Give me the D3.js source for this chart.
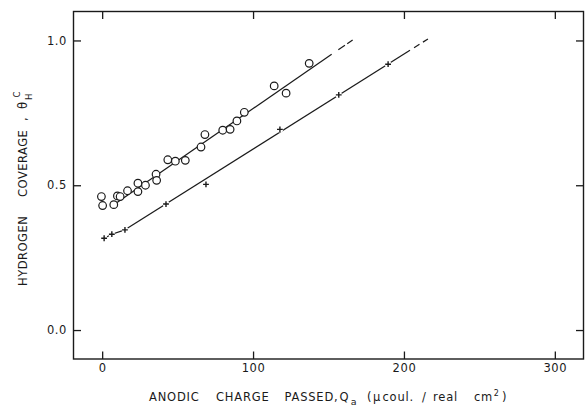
<!DOCTYPE html>
<html>
<head>
<meta charset="utf-8">
<script src="https://cdn.jsdelivr.net/npm/d3@7"></script>
<style>
  body { margin: 0; background: #fff; }
  svg text { font-family: "DejaVu Sans", "Liberation Sans", sans-serif; fill: #1a1a1a; }
</style>
</head>
<body>
<svg id="chart" width="585" height="407"></svg>
<script>
// Open circles: coverage measured after anodic charge
const circleQ = [-0.5, 0.3, 7.7, 10.1, 11.9, 16.8, 23.7, 23.7, 28.7, 35.7, 36.1, 43.5, 48.5, 55.1,
                 65.5, 68.1, 79.9, 84.8, 89.3, 94.2, 114.0, 121.9, 137.2];
const circleTheta = [0.461, 0.430, 0.433, 0.463, 0.461, 0.481, 0.478, 0.507, 0.500, 0.538, 0.517, 0.588,
                     0.583, 0.586, 0.632, 0.675, 0.690, 0.693, 0.722, 0.752, 0.843, 0.818, 0.921];

// Crosses: second series
const plusQ = [1.3, 6.4, 15.1, 42.3, 68.8, 117.8, 156.8, 189.5];
const plusTheta = [0.317, 0.331, 0.346, 0.435, 0.503, 0.693, 0.812, 0.918];

// Straight-line fits (solid part) and their dashed extrapolations
const circleFitQ = [7.7, 152.1];
const circleFitTheta = [0.433, 0.952];
const circleDashQ = [[156.5, 160.9], [162.4, 166.0]];

const plusFitQ = [15.1, 204.0];
const plusFitTheta = [0.346, 0.966];
const plusDashQ = [[206.7, 210.3], [212.6, 215.9]];
const plusLeadCount = 3; // first crosses joined point to point

// Axis ticks
const xTicks = [0, 100, 200, 300];
const yTicks = [0.0, 0.5, 1.0];
const xTickLabels = ["0", "100", "200", "300"];
const yTickLabels = ["0.0", "0.5", "1.0"];

const ink = "#1a1a1a";
const svg = d3.select("#chart");

const x = d3.scaleLinear().domain([-19, 319]).range([73.5, 583.5]);
const y = d3.scaleLinear().domain([-0.1, 1.1]).range([359, 11.5]);

const [x0, x1] = x.range();
const [yb, yt] = y.range();

// Axes with inward ticks on all four sides
function styleAxis(g) {
  g.select(".domain").remove();
  g.selectAll(".tick line").attr("stroke", ink).attr("stroke-width", 1.3);
  g.selectAll(".tick text")
    .attr("font-family", '"DejaVu Sans", sans-serif')
    .attr("font-size", 11.5)
    .attr("letter-spacing", 0.6)
    .attr("fill", ink);
}
const tickLen = 7.5;

svg.append("g").attr("transform", `translate(0,${yb})`)
  .call(d3.axisBottom(x).tickValues(xTicks).tickSize(-tickLen).tickPadding(5)
        .tickFormat((d, i) => xTickLabels[i]))
  .call(styleAxis);

svg.append("g").attr("transform", `translate(0,${yt})`)
  .call(d3.axisTop(x).tickValues(xTicks).tickSize(-tickLen).tickFormat(""))
  .call(styleAxis);

svg.append("g").attr("transform", `translate(${x0},0)`)
  .call(d3.axisLeft(y).tickValues(yTicks).tickSize(-tickLen).tickPadding(6.5)
        .tickFormat((d, i) => yTickLabels[i]))
  .call(styleAxis);

svg.append("g").attr("transform", `translate(${x1},0)`)
  .call(d3.axisRight(y).tickValues(yTicks).tickSize(-tickLen).tickFormat(""))
  .call(styleAxis);

// Frame
svg.append("rect")
  .attr("x", x0).attr("y", yt)
  .attr("width", x1 - x0).attr("height", yb - yt)
  .attr("fill", "none").attr("stroke", ink).attr("stroke-width", 1.4);

// Fit lines
const line = d3.line().x(d => x(d[0])).y(d => y(d[1]));
function along(q, qs, ts) {
  const s = (ts[1] - ts[0]) / (qs[1] - qs[0]);
  return [q, ts[0] + s * (q - qs[0])];
}
function drawFit(qs, ts, dashes) {
  svg.append("path")
    .attr("d", line([[qs[0], ts[0]], [qs[1], ts[1]]]))
    .attr("fill", "none").attr("stroke", ink).attr("stroke-width", 1.2);
  dashes.forEach(([a, b]) => {
    svg.append("path")
      .attr("d", line([along(a, qs, ts), along(b, qs, ts)]))
      .attr("fill", "none").attr("stroke", ink).attr("stroke-width", 1.2);
  });
}
drawFit(circleFitQ, circleFitTheta, circleDashQ);
drawFit(plusFitQ, plusFitTheta, plusDashQ);

// Lead-in joining the first crosses
const lead = plusQ.slice(0, plusLeadCount).map((q, i) => [q, plusTheta[i]]);
svg.append("path").attr("d", line(lead))
  .attr("fill", "none").attr("stroke", ink).attr("stroke-width", 1.2);

// Crosses: small white clearing round each, then the cross
const plusData = plusQ.map((q, i) => [q, plusTheta[i]]);
svg.append("g").selectAll("circle").data(plusData).join("circle")
  .attr("cx", d => x(d[0])).attr("cy", d => y(d[1])).attr("r", 3.2)
  .attr("fill", "#fff");
const arm = 2.9;
svg.append("g").selectAll("path").data(plusData).join("path")
  .attr("d", d => {
    const cx = x(d[0]), cy = y(d[1]);
    return `M${cx - arm},${cy}H${cx + arm}M${cx},${cy - arm}V${cy + arm}`;
  })
  .attr("stroke", ink).attr("stroke-width", 1.4).attr("fill", "none");

// Open circles
const circData = circleQ.map((q, i) => [q, circleTheta[i]]);
svg.append("g").selectAll("circle").data(circData).join("circle")
  .attr("cx", d => x(d[0])).attr("cy", d => y(d[1])).attr("r", 3.8)
  .attr("fill", "#fff").attr("stroke", ink).attr("stroke-width", 1.2);

// X axis title
const xt = svg.append("text").attr("y", 401)
  .attr("font-size", 11.5).attr("letter-spacing", 0.8);
xt.append("tspan").attr("x", 149).text("ANODIC");
xt.append("tspan").attr("x", 216).text("CHARGE");
xt.append("tspan").attr("x", 284.5).text("PASSED,");
xt.append("tspan").attr("x", 339.5).text("Q");
xt.append("tspan").attr("dx", 1.5).attr("dy", 3.5).attr("font-size", 9.5).text("a");
xt.append("tspan").attr("x", 367).attr("dy", -3.5).text("(");
xt.append("tspan").attr("x", 373).text("μ");
xt.append("tspan").attr("x", 382.5).text("coul.");
xt.append("tspan").attr("x", 422).text("/");
xt.append("tspan").attr("x", 433).text("real");
xt.append("tspan").attr("x", 474).text("cm");
xt.append("tspan").attr("dx", 0.5).attr("dy", -5).attr("font-size", 8).text("2");
xt.append("tspan").attr("x", 502).attr("dy", 5).text(")");

// Y axis title (rotated)
const yg = svg.append("g").attr("transform", "translate(27,0) rotate(-90)");
const ytxt = yg.append("text").attr("font-size", 11.5).attr("letter-spacing", 0.5);
ytxt.append("tspan").attr("x", -286).text("HYDROGEN");
ytxt.append("tspan").attr("x", -197).text("COVERAGE");
ytxt.append("tspan").attr("x", -121).text(",");
ytxt.append("tspan").attr("x", -109).text("θ");
yg.append("text").attr("x", -100).attr("y", 5).attr("font-size", 8.5).text("H");
yg.append("text").attr("x", -97.5).attr("y", -7.5).attr("font-size", 8.5).text("C");
</script>
</body>
</html>
